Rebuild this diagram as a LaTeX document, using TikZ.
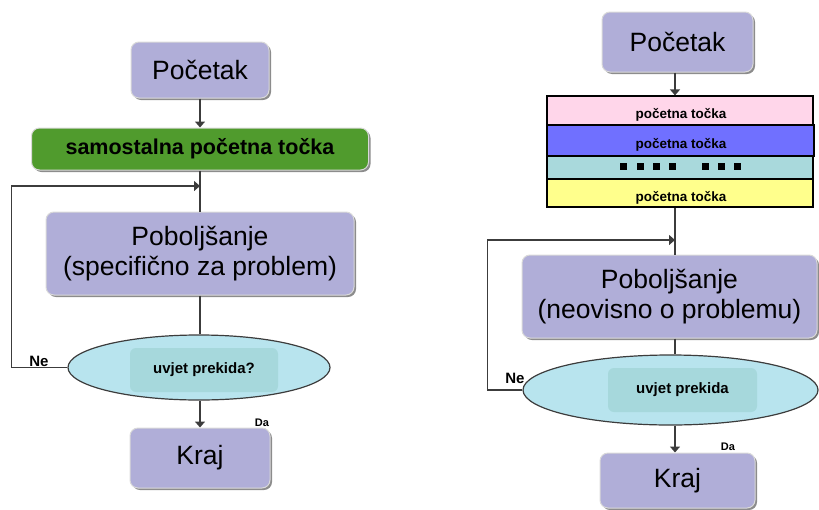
\documentclass[tikz,border=0pt]{standalone}
\usepackage{fontspec}
\setmainfont{Liberation Sans}
\usetikzlibrary{shapes.geometric,shadows,arrows.meta}
\definecolor{lav}{RGB}{176,174,216}
\definecolor{grn}{RGB}{80,155,45}
\definecolor{cyanfill}{RGB}{184,228,238}
\definecolor{innerfill}{RGB}{166,216,220}
\definecolor{lnc}{RGB}{60,60,60}
\definecolor{pinkb}{RGB}{255,214,234}
\definecolor{blueb}{RGB}{112,112,255}
\definecolor{tealb}{RGB}{169,217,220}
\definecolor{yelb}{RGB}{255,255,140}
\tikzset{
  box/.style={draw=white!85!black, line width=1pt, fill=lav, rounded corners=8pt,
    drop shadow={shadow xshift=2pt, shadow yshift=-2pt, fill=black, opacity=0.45},
    align=center, inner sep=0pt, text=black},
  gbox/.style={box, fill=grn},
  cond/.style={ellipse, draw=lnc, line width=1.2pt, fill=cyanfill, inner sep=0pt},
  inner/.style={rounded corners=6pt, fill=innerfill, inner sep=0pt},
  band/.style={rectangle, draw=black, line width=1.2pt, inner sep=0pt},
  ln/.style={draw=lnc, line width=1.4pt},
  arr/.style={ln, -{Triangle[length=6pt,width=10pt]}},
  big/.style={font=\fontsize{26.5}{30}\selectfont},
  lbl/.style={font=\bfseries\fontsize{15}{17}\selectfont, inner sep=0pt},
  sm/.style={font=\bfseries\fontsize{11}{13}\selectfont, inner sep=0pt},
  bt/.style={font=\bfseries\fontsize{13.5}{15}\selectfont, inner sep=0pt}
}
\begin{document}
\begin{tikzpicture}[x=1pt,y=-1pt]
\useasboundingbox (0,0) rectangle (819,509);
% ---------- left ----------
\node[box, big, minimum width=138pt, minimum height=56pt] (start1) at (200,70) {Početak};
\node[gbox, minimum width=337pt, minimum height=42pt, font=\bfseries\fontsize{21.5}{24}\selectfont] (green) at (200,149) {samostalna početna točka};
\node[box, big, minimum width=308pt, minimum height=83pt] (imp1) at (200,253.5) {Poboljšanje\\(specifično za problem)};
\node[cond, minimum width=262pt, minimum height=65pt] (cond1) at (199,367.5) {};
\node[inner, minimum width=148pt, minimum height=44pt, font=\bfseries\fontsize{15}{17}\selectfont] (in1) at (204,370) {uvjet prekida?};
\node[box, big, minimum width=140pt, minimum height=60pt] (end1) at (200,458) {Kraj};
\coordinate (j1) at (200,186);
\draw[arr] (start1.south) -- (green.north);
\draw[ln] (green.south) -- (imp1.north);
\draw[ln] (imp1.south) -- (imp1.south |- cond1.north);
\draw[arr] (cond1.south -| j1) -- (end1.north);
\draw[arr] (cond1.west) -- ++(-56,0) |- (j1);
\node[lbl] (ne1) at (39,361) {Ne};
\node[sm] (da1) at (262,423) {Da};
% ---------- right ----------
\coordinate (j2) at (675,240);
\node[box, big, minimum width=151pt, minimum height=60pt] (start2) at (677.5,42) {Početak};
\node[band, fill=pinkb, minimum width=266pt, minimum height=29pt] (b1) at (680,110.5) {};
\node[band, fill=blueb, minimum width=267pt, minimum height=31pt] (b2) at (680.5,140.5) {};
\node[band, fill=tealb, minimum width=266pt, minimum height=23pt] (b3) at (680,167.5) {};
\node[band, fill=yelb, minimum width=266pt, minimum height=28pt] (b4) at (680,193) {};
\node[bt] (t1) at (681,115) {početna točka};
\node[bt] (t2) at (681,145) {početna točka};
\node[bt] (t4) at (681,198) {početna točka};
\foreach \xx in {623.5,640,656,672.5,705,721.5,737.5}
  \fill[black] (\xx-3.5,163) rectangle (\xx+3.5,170);
\node[box, big, minimum width=295pt, minimum height=83pt] (imp2) at (669.5,296.5) {Poboljšanje\\(neovisno o problemu)};
\node[cond, minimum width=295pt, minimum height=70pt] (cond2) at (670.5,390) {};
\node[inner, minimum width=149pt, minimum height=44pt, font=\bfseries\fontsize{15}{17}\selectfont] (in2) at (682.5,390) {uvjet prekida};
\node[box, big, minimum width=155pt, minimum height=55pt] (end2) at (677.5,480.5) {Kraj};
\draw[arr] (start2.south -| j2) -- (b1.north -| j2);
\draw[ln] (b4.south -| j2) -- (imp2.north -| j2);
\draw[ln] (imp2.south -| j2) -- (cond2.north -| j2);
\draw[arr] (cond2.south -| j2) -- (end2.north -| j2);
\draw[arr] (cond2.west) -- ++(-35,0) |- (j2);
\node[lbl] (ne2) at (515,378) {Ne};
\node[sm] (da2) at (728,447) {Da};
\end{tikzpicture}
\end{document}
